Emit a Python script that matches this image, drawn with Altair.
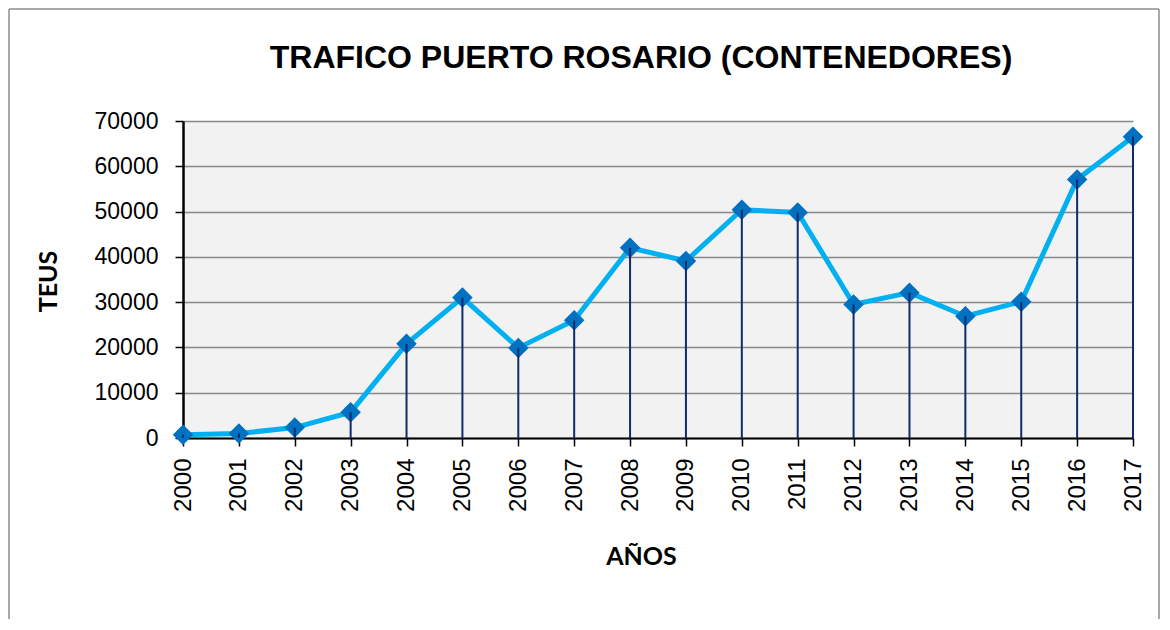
import altair as alt
import pandas as pd

years = list(range(2000, 2018))
teus = [700, 1000, 2300, 5700, 20800, 31000, 19900, 26000, 42000, 39100,
        50400, 49800, 29500, 32100, 26900, 30100, 57100, 66500]
y_ticks = [0, 10000, 20000, 30000, 40000, 50000, 60000, 70000]
title_text = "TRAFICO PUERTO ROSARIO (CONTENEDORES)"

df = pd.DataFrame({"year": years, "teus": teus})

FONT = "Liberation Sans"

x_enc = alt.X("year:Q",
              scale=alt.Scale(domain=[2000, 2017], nice=False, zero=False),
              axis=alt.Axis(values=years, format="d", labelAngle=-90,
                            title="AÑOS", grid=False, labelFontSize=24,
                            labelPadding=12,
                            titleX=458, titleY=126, titleBaseline="alphabetic",
                            titleAlign="center"))
y_enc = alt.Y("teus:Q",
              scale=alt.Scale(domain=[0, 70000], nice=False),
              axis=alt.Axis(values=y_ticks, format="d", title="TEUS", grid=True,
                            labelFontSize=23, labelPadding=17,
                            titleX=-127, titleY=160, titleAngle=-90,
                            titleBaseline="alphabetic", titleAlign="center"))

base = alt.Chart(df)

line = base.mark_line(color="#00B0F0", strokeWidth=5).encode(x=x_enc, y=y_enc)
points = base.mark_point(shape="diamond", filled=True, color="#0070C0",
                         size=420, opacity=1).encode(x="year:Q", y="teus:Q")
drops = base.mark_rule(color="#102A6B", strokeWidth=2).encode(
    x="year:Q", y="teus:Q", y2=alt.datum(0))

one = alt.Data(values=[{}])
bstyle = dict(color="#8C8C8C", strokeWidth=1.5)
b_left = alt.Chart(one).mark_rule(**bstyle).encode(
    x=alt.value(-174), y=alt.value(-112), y2=alt.value(498))
b_right = alt.Chart(one).mark_rule(**bstyle).encode(
    x=alt.value(976), y=alt.value(-112), y2=alt.value(498))
b_top = alt.Chart(one).mark_rule(**bstyle).encode(
    x=alt.value(-174), x2=alt.value(976), y=alt.value(-112))

title = alt.Chart(one).mark_text(
    font=FONT, fontSize=32, fontWeight="bold", color="#000000",
    align="center", baseline="alphabetic").encode(
    text=alt.value(title_text), x=alt.value(458), y=alt.value(-53))

chart = alt.layer(b_left, b_right, b_top, title, line, points, drops).properties(
    width=950, height=317,
    padding=0,
).configure_view(fill="#F2F2F2", stroke=None).configure_axis(
    labelFont=FONT, labelColor="#000000",
    titleFont="Lato", titleFontSize=25, titleFontWeight="bold", titleColor="#000000",
    domainColor="#000000", domainWidth=2, tickColor="#000000", tickWidth=1.5,
    tickSize=8, gridColor="#888888", gridWidth=1.5,
).configure_axisY(domainWidth=2.5)

chart.save("out.html", embed_options={"renderer": "svg", "actions": False})
